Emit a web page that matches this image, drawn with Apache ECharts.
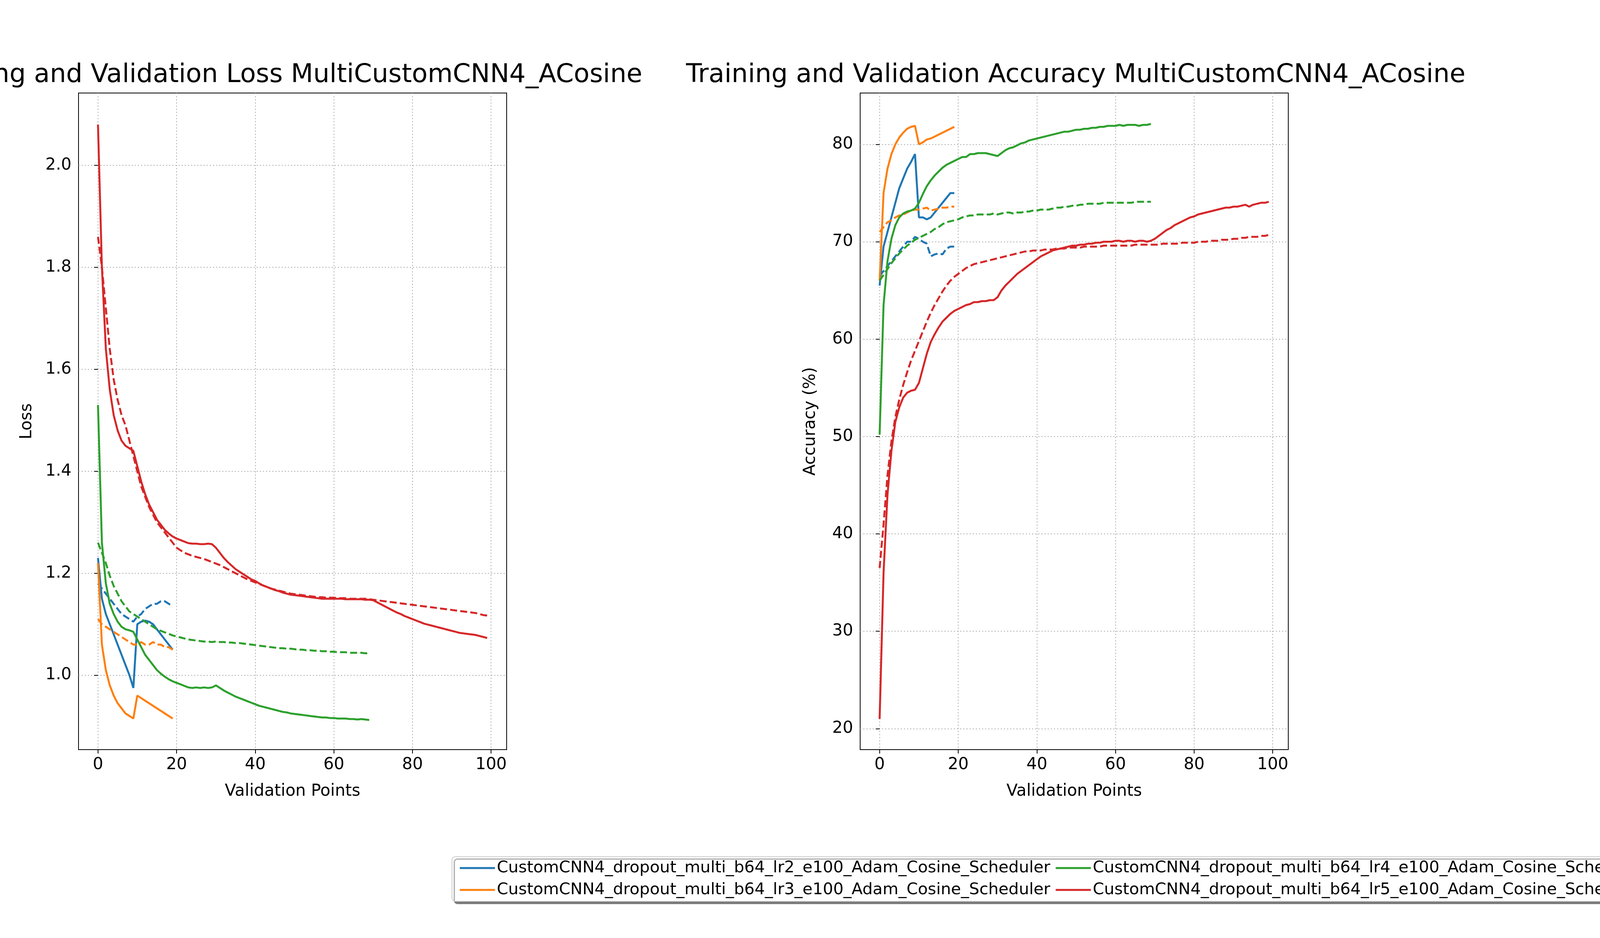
<!DOCTYPE html>
<html><head><meta charset="utf-8">
<script src="https://cdn.jsdelivr.net/npm/echarts@6/dist/echarts.min.js"></script>
<style>html,body{margin:0;background:#fff}#main{width:4200px;height:2400px}</style>
</head><body><div id="main"></div>
<script>
// 模型名称
var names = [
  'CustomCNN4_dropout_multi_b64_lr2_e100_Adam_Cosine_Scheduler',
  'CustomCNN4_dropout_multi_b64_lr3_e100_Adam_Cosine_Scheduler',
  'CustomCNN4_dropout_multi_b64_lr4_e100_Adam_Cosine_Scheduler',
  'CustomCNN4_dropout_multi_b64_lr5_e100_Adam_Cosine_Scheduler'
];
var colors = ['#1f77b4', '#ff7f0e', '#2ca02c', '#d62728'];
var xTicks = [0, 20, 40, 60, 80, 100];

// loss 数据 (实线=训练, 虚线=验证)
var lossTrain2 = [1.23,1.15,1.12,1.10,1.08,1.06,1.04,1.02,1.00,0.975,1.10,1.105,1.107,1.105,1.10,1.09,1.08,1.07,1.06,1.05];
var lossVal2 = [1.18,1.17,1.16,1.15,1.14,1.13,1.12,1.115,1.11,1.105,1.115,1.12,1.13,1.135,1.14,1.14,1.145,1.145,1.14,1.135];
var lossTrain3 = [1.22,1.06,1.01,0.98,0.96,0.945,0.935,0.925,0.92,0.915,0.96,0.955,0.95,0.945,0.94,0.935,0.93,0.925,0.92,0.915];
var lossVal3 = [1.11,1.10,1.095,1.09,1.085,1.08,1.075,1.07,1.065,1.06,1.06,1.065,1.06,1.06,1.065,1.06,1.06,1.055,1.055,1.05];
var lossTrain4 = [1.53,1.26,1.18,1.14,1.12,1.105,1.095,1.09,1.088,1.085,
  1.07,1.055,1.04,1.03,1.02,1.01,1.003,0.997,0.992,0.988,
  0.985,0.982,0.979,0.976,0.975,0.976,0.975,0.976,0.975,0.976,
  0.98,0.975,0.97,0.966,0.962,0.958,0.955,0.952,0.949,0.946,
  0.943,0.94,0.938,0.936,0.934,0.932,0.93,0.928,0.927,0.925,
  0.924,0.923,0.922,0.921,0.92,0.919,0.918,0.917,0.917,0.916,
  0.916,0.915,0.915,0.915,0.914,0.914,0.913,0.914,0.913,0.912];
var lossVal4 = [1.26,1.24,1.22,1.195,1.175,1.16,1.145,1.135,1.125,1.12,
  1.115,1.11,1.105,1.1,1.095,1.09,1.087,1.084,1.081,1.078,
  1.076,1.074,1.072,1.07,1.069,1.068,1.067,1.066,1.066,1.065,
  1.066,1.065,1.065,1.064,1.064,1.063,1.063,1.062,1.061,1.06,
  1.059,1.058,1.057,1.056,1.055,1.054,1.053,1.053,1.052,1.052,
  1.051,1.05,1.05,1.049,1.049,1.048,1.048,1.047,1.047,1.046,
  1.046,1.045,1.045,1.045,1.044,1.044,1.044,1.044,1.043,1.043];
var lossTrain5 = [2.08,1.80,1.64,1.56,1.51,1.48,1.46,1.45,1.445,1.44,
  1.41,1.38,1.355,1.335,1.32,1.305,1.295,1.285,1.278,1.272,
  1.268,1.265,1.262,1.259,1.258,1.258,1.257,1.257,1.258,1.257,
  1.25,1.24,1.23,1.222,1.215,1.208,1.203,1.198,1.193,1.188,
  1.185,1.18,1.176,1.173,1.17,1.167,1.165,1.162,1.16,1.158,
  1.157,1.156,1.155,1.154,1.153,1.152,1.151,1.15,1.15,1.15,
  1.15,1.15,1.15,1.149,1.149,1.149,1.149,1.149,1.148,1.148,
  1.147,1.143,1.139,1.135,1.131,1.127,1.123,1.12,1.116,1.113,
  1.11,1.107,1.104,1.101,1.099,1.097,1.095,1.093,1.091,1.089,
  1.087,1.085,1.083,1.082,1.081,1.08,1.079,1.077,1.075,1.073];
var lossVal5 = [1.86,1.80,1.72,1.64,1.58,1.54,1.51,1.49,1.46,1.43,
  1.40,1.37,1.35,1.33,1.315,1.30,1.29,1.28,1.27,1.26,
  1.25,1.245,1.24,1.237,1.234,1.232,1.23,1.228,1.225,1.222,
  1.219,1.216,1.212,1.208,1.204,1.2,1.196,1.192,1.188,1.185,
  1.182,1.179,1.176,1.173,1.17,1.168,1.166,1.164,1.162,1.16,
  1.159,1.158,1.157,1.156,1.155,1.154,1.153,1.153,1.152,1.152,
  1.152,1.151,1.151,1.151,1.15,1.15,1.15,1.15,1.15,1.149,
  1.148,1.147,1.146,1.145,1.144,1.143,1.142,1.141,1.14,1.139,
  1.138,1.137,1.136,1.135,1.134,1.133,1.132,1.131,1.13,1.129,
  1.128,1.127,1.126,1.125,1.124,1.123,1.122,1.12,1.118,1.117];

// accuracy 数据
var accTrain2 = [65.5,69.5,71,72.5,74,75.5,76.5,77.5,78.2,79,72.5,72.5,72.3,72.5,73,73.5,74,74.5,75,75];
var accVal2 = [66.5,67,67.5,68,68.5,69,69.5,70,70,70.5,70.3,70,69.8,68.5,68.7,68.8,68.7,69.3,69.5,69.5];
var accTrain3 = [66,75,77.5,79,80,80.7,81.2,81.6,81.8,81.9,80,80.2,80.5,80.6,80.8,81,81.2,81.4,81.6,81.8];
var accVal3 = [71,71.5,72,72.2,72.5,72.7,72.8,73,73.2,73.3,73.3,73.4,73.5,73.2,73.3,73.4,73.5,73.5,73.6,73.6];
var accTrain4 = [50.2,63.5,68,70.3,71.7,72.5,72.9,73.1,73.2,73.4,
  74,74.9,75.7,76.3,76.8,77.2,77.6,77.9,78.1,78.3,
  78.5,78.7,78.7,79,79,79.1,79.1,79.1,79,78.9,
  78.8,79.1,79.4,79.6,79.7,79.9,80.1,80.2,80.4,80.5,
  80.6,80.7,80.8,80.9,81,81.1,81.2,81.3,81.3,81.4,
  81.5,81.5,81.6,81.6,81.7,81.7,81.8,81.8,81.9,81.9,
  81.9,82,81.9,82,82,82,81.9,82,82,82.1];
var accVal4 = [66,66.6,67.2,67.8,68.3,68.8,69.2,69.6,69.9,70.2,
  70.4,70.6,70.8,71,71.3,71.5,71.8,72,72.1,72.2,
  72.3,72.5,72.6,72.7,72.7,72.8,72.8,72.8,72.8,72.9,
  72.8,72.9,73,73,72.9,73,73,73.1,73.1,73.2,
  73.2,73.3,73.3,73.3,73.4,73.5,73.5,73.6,73.6,73.7,
  73.7,73.8,73.8,73.9,73.9,73.9,73.9,74,74,74,
  74,74,74,74,74,74.1,74.1,74.1,74.1,74.1];
var accTrain5 = [21,36,44,48.5,51.5,53,54,54.5,54.7,54.8,
  55.5,57,58.5,59.7,60.5,61.2,61.8,62.2,62.6,62.9,
  63.1,63.3,63.5,63.6,63.8,63.8,63.9,63.9,64,64,
  64.3,65,65.5,65.9,66.3,66.7,67,67.3,67.6,67.9,
  68.2,68.5,68.7,68.9,69.1,69.2,69.3,69.4,69.5,69.6,
  69.6,69.7,69.7,69.8,69.8,69.9,69.9,70,70,70,
  70.1,70.1,70,70.1,70.1,70,70.1,70.1,70,70.1,
  70.3,70.6,70.9,71.2,71.4,71.7,71.9,72.1,72.3,72.5,
  72.6,72.8,72.9,73,73.1,73.2,73.3,73.4,73.5,73.5,
  73.6,73.6,73.7,73.8,73.6,73.8,73.9,74,74,74.1];
var accVal5 = [36.5,41,46,49.5,52,53.8,55.3,56.6,57.8,58.8,
  59.8,60.8,61.8,62.7,63.5,64.2,64.9,65.5,66,66.4,
  66.7,67,67.3,67.5,67.7,67.8,67.9,68,68.1,68.2,
  68.3,68.4,68.5,68.6,68.7,68.8,68.9,69,69,69.1,
  69.1,69.1,69.2,69.2,69.2,69.3,69.3,69.3,69.4,69.4,
  69.4,69.4,69.5,69.5,69.5,69.5,69.5,69.6,69.6,69.6,
  69.6,69.6,69.6,69.6,69.6,69.7,69.7,69.7,69.7,69.7,
  69.7,69.7,69.8,69.8,69.8,69.8,69.8,69.9,69.9,69.9,
  69.9,70,70,70,70.1,70.1,70.1,70.2,70.2,70.2,
  70.3,70.3,70.4,70.4,70.5,70.5,70.5,70.6,70.6,70.7];

var lossTrain = [lossTrain2, lossTrain3, lossTrain4, lossTrain5];
var lossVal = [lossVal2, lossVal3, lossVal4, lossVal5];
var accTrain = [accTrain2, accTrain3, accTrain4, accTrain5];
var accVal = [accVal2, accVal3, accVal4, accVal5];

var font = 'DejaVu Sans';
function pairs(arr) { return arr.map(function (v, i) { return [i, v]; }); }

var series = [];
for (var k = 0; k < 4; k++) {
  [[lossTrain[k], 0, 'solid'], [lossVal[k], 0, 'dashed'], [accTrain[k], 1, 'solid'], [accVal[k], 1, 'dashed']].forEach(function (s) {
    series.push({
      name: names[k], type: 'line', xAxisIndex: s[1], yAxisIndex: s[1],
      data: pairs(s[0]), symbol: 'none', animation: false,
      lineStyle: { color: colors[k], width: 5, type: s[2] === 'dashed' ? [18, 8] : 'solid' },
      itemStyle: { color: colors[k] }
    });
  });
}

function xAxis(idx) {
  return {
    type: 'value', gridIndex: idx, min: -4.95, max: 103.95,
    name: 'Validation Points', nameLocation: 'middle', nameGap: 86,
    nameTextStyle: { fontSize: 42, fontFamily: font, color: '#000' },
    axisLine: { show: false },
    axisTick: { show: true, length: 10, customValues: xTicks, lineStyle: { color: '#000', width: 2 } },
    axisLabel: { customValues: xTicks, fontSize: 42, fontFamily: font, color: '#000', margin: 18 },
    splitLine: { show: true, lineStyle: { color: '#b0b0b0', width: 2, type: [3, 5] } }
  };
}
function yAxis(idx, min, max, ticks, name, gap, fmt) {
  return {
    type: 'value', gridIndex: idx, min: min, max: max,
    name: name, nameLocation: 'middle', nameGap: gap, nameRotate: 90,
    nameTextStyle: { fontSize: 42, fontFamily: font, color: '#000' },
    axisLine: { show: false },
    axisTick: { show: true, length: 10, customValues: ticks, lineStyle: { color: '#000', width: 2 } },
    axisLabel: { customValues: ticks, fontSize: 42, fontFamily: font, color: '#000', margin: 18, formatter: fmt },
    splitLine: { show: true, lineStyle: { color: '#b0b0b0', width: 2, type: [3, 5] } }
  };
}

var myChart = echarts.init(document.getElementById('main'));
var option = {
  backgroundColor: '#fff',
  title: [
    { text: 'Training and Validation Loss MultiCustomCNN4_ACosine', left: 720, top: 155, textAlign: 'center',
      textStyle: { fontSize: 66, fontWeight: 'normal', fontFamily: font, color: '#000' } },
    { text: 'Training and Validation Accuracy MultiCustomCNN4_ACosine', left: 2749, top: 155, textAlign: 'center',
      textStyle: { fontSize: 66, fontWeight: 'normal', fontFamily: font, color: '#000' } }
  ],
  grid: [
    { left: 201, top: 238, width: 1096, height: 1680, show: true, borderColor: '#000', borderWidth: 2 },
    { left: 2202, top: 238, width: 1096, height: 1680, show: true, borderColor: '#000', borderWidth: 2 }
  ],
  xAxis: [xAxis(0), xAxis(1)],
  yAxis: [
    yAxis(0, 0.854, 2.142, [1.0, 1.2, 1.4, 1.6, 1.8, 2.0], 'Loss', 111, function (v) { return v.toFixed(1); }),
    yAxis(1, 17.85, 85.27, [20, 30, 40, 50, 60, 70, 80], 'Accuracy (%)', 106, function (v) { return v; })
  ],
  legend: {
    data: [names[0], names[2], names[1], names[3]],
    left: 1157, top: 2192, width: 3400, orient: 'horizontal',
    icon: 'rect', itemWidth: 90, itemHeight: 5, itemGap: 14, padding: [8, 20, 8, 20],
    backgroundColor: '#fff', borderColor: '#ccc', borderWidth: 2, borderRadius: 8,
    shadowColor: 'rgba(0,0,0,0.5)', shadowOffsetX: 6, shadowOffsetY: 6, shadowBlur: 2,
    textStyle: { fontSize: 41.5, fontFamily: font, color: '#000', width: 1512 }
  },
  series: series
};
myChart.setOption(option);
</script>
</body></html>
